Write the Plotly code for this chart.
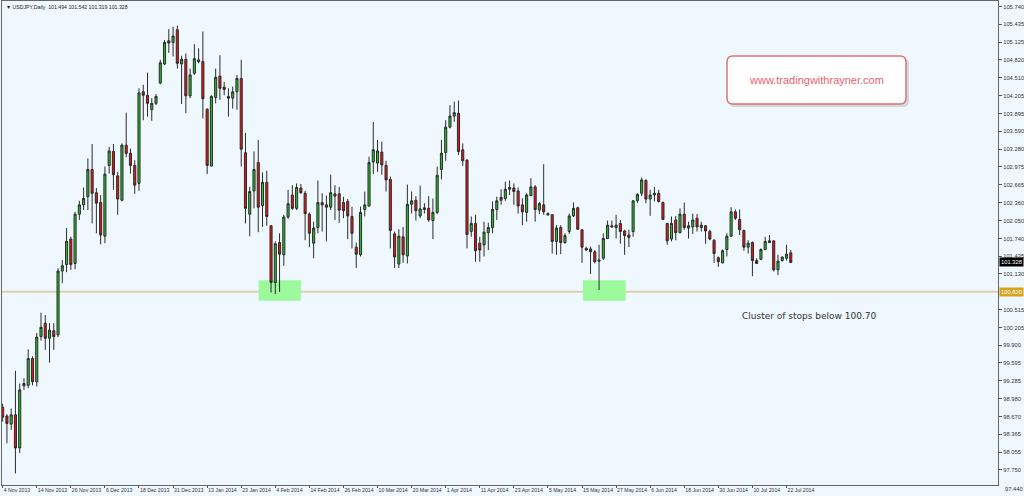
import pandas as pd
import plotly.graph_objects as go

# ---- data ----
dates = pd.bdate_range("2013-11-04", "2014-07-23", freq="C",
                       holidays=["2013-12-25", "2014-01-01"])
date_str = [d.strftime("%Y-%m-%d") for d in dates]

opens = [98.83, 98.68, 98.54, 98.70, 98.13, 99.24, 99.21, 99.67, 99.27, 100.05,
         100.28, 100.02, 100.15, 100.08, 101.18, 101.29, 101.73, 101.31, 102.16, 102.32,
         102.46, 102.93, 102.53, 102.36, 101.78, 103.00, 103.24, 102.82, 102.40, 103.35,
         103.21, 103.00, 102.69, 104.27, 104.21, 103.96, 104.07, 104.42, 104.75, 105.15,
         105.12, 105.34, 104.75, 104.83, 104.20, 104.59, 104.82, 104.79, 103.97, 102.99,
         104.17, 104.54, 104.35, 104.19, 104.16, 104.27, 104.50, 103.22, 102.16, 102.56,
         103.05, 102.31, 102.71, 101.96, 100.98, 101.67, 101.46, 102.11, 102.49, 102.26,
         102.61, 102.52, 102.16, 101.66, 101.93, 102.36, 102.32, 102.28, 102.47, 102.51,
         102.36, 102.38, 102.12, 101.59, 101.46, 102.24, 102.30, 103.06, 103.04, 103.23,
         103.00, 102.76, 101.82, 101.30, 101.77, 101.44, 102.33, 102.40, 102.13, 102.24,
         102.26, 102.05, 102.19, 102.93, 103.22, 103.66, 103.85, 103.90, 103.27, 103.09,
         101.86, 102.00, 101.66, 101.63, 101.84, 101.93, 102.24, 102.40, 102.43, 102.59,
         102.61, 102.56, 102.32, 102.19, 102.48, 102.63, 102.23, 102.32, 102.17, 102.15,
         101.69, 101.93, 101.67, 101.86, 102.13, 102.27, 101.89, 101.57, 101.56, 101.51,
         101.37, 101.40, 101.74, 101.96, 101.93, 102.00, 101.87, 101.80, 101.86, 102.39,
         102.52, 102.74, 102.42, 102.49, 102.52, 102.36, 102.00, 101.73, 102.06, 101.84,
         102.16, 101.92, 101.94, 102.09, 101.93, 101.96, 101.86, 101.71, 101.41, 101.32,
         101.55, 101.78, 102.20, 102.07, 101.88, 101.59, 101.67, 101.36, 101.38, 101.55,
         101.67, 101.70, 101.20, 101.36, 101.40, 101.494]
highs = [98.89, 98.71, 98.81, 99.46, 99.24, 99.33, 99.83, 99.71, 100.11, 100.46,
         100.42, 100.28, 100.28, 101.23, 101.37, 101.92, 101.77, 102.20, 102.39, 102.62,
         103.12, 103.37, 102.61, 102.49, 102.98, 103.32, 103.37, 102.89, 103.38, 103.91,
         103.29, 103.09, 104.33, 104.39, 104.60, 104.16, 104.23, 104.82, 105.16, 105.35,
         105.39, 105.41, 104.89, 104.93, 104.67, 105.09, 105.02, 105.31, 103.98, 104.21,
         104.67, 104.90, 104.44, 104.33, 104.36, 104.56, 104.82, 103.56, 102.63, 103.24,
         103.44, 102.88, 102.91, 101.97, 101.69, 101.83, 102.15, 102.58, 102.66, 102.69,
         102.68, 102.56, 102.19, 102.03, 102.74, 102.52, 102.48, 102.84, 102.66, 102.63,
         102.46, 102.42, 102.29, 101.67, 102.29, 102.55, 103.15, 103.75, 103.44, 103.41,
         103.08, 102.81, 101.86, 101.90, 101.94, 102.67, 102.55, 102.47, 102.65, 102.35,
         102.47, 102.43, 102.98, 103.44, 103.78, 104.04, 104.10, 104.12, 103.38, 103.11,
         102.12, 102.15, 101.77, 102.03, 102.01, 102.38, 102.46, 102.59, 102.72, 102.74,
         102.69, 102.62, 102.43, 102.52, 102.78, 102.66, 102.37, 103.02, 102.19, 102.16,
         101.97, 101.97, 101.83, 102.17, 102.36, 102.29, 101.90, 101.60, 101.60, 101.54,
         101.63, 101.83, 102.05, 102.05, 102.15, 102.06, 101.89, 101.89, 102.40, 102.52,
         102.79, 102.76, 102.58, 102.63, 102.58, 102.38, 102.01, 102.12, 102.13, 102.26,
         102.36, 102.03, 102.17, 102.16, 102.03, 101.97, 101.89, 101.73, 101.43, 101.55,
         101.83, 102.28, 102.24, 102.24, 101.89, 101.71, 101.69, 101.40, 101.57, 101.77,
         101.80, 101.70, 101.46, 101.43, 101.63, 101.542]
lows = [98.58, 98.21, 98.44, 97.69, 98.04, 99.13, 99.16, 99.21, 99.19, 99.98,
        99.82, 99.60, 99.82, 100.04, 100.97, 101.16, 101.20, 101.21, 102.06, 102.23,
        102.23, 102.00, 101.83, 101.64, 101.66, 102.86, 102.58, 102.15, 102.38, 103.14,
        102.86, 102.51, 102.56, 103.78, 103.84, 103.77, 104.04, 104.40, 104.73, 104.94,
        104.88, 104.67, 104.06, 103.90, 104.16, 104.56, 104.76, 103.81, 102.85, 102.98,
        104.07, 104.13, 104.21, 103.84, 103.98, 103.96, 102.98, 102.00, 101.78, 102.26,
        101.85, 101.94, 101.96, 100.81, 100.78, 100.82, 101.27, 102.08, 102.23, 102.23,
        102.51, 101.71, 101.59, 101.40, 101.83, 101.86, 101.69, 102.23, 102.06, 102.01,
        102.09, 101.73, 101.57, 101.23, 101.43, 102.12, 102.29, 102.85, 102.89, 102.84,
        102.55, 101.57, 101.23, 101.23, 101.32, 101.31, 102.17, 102.05, 102.09, 102.17,
        102.03, 101.73, 102.16, 102.76, 103.08, 103.64, 103.75, 103.18, 102.99, 101.57,
        101.77, 101.34, 101.34, 101.43, 101.54, 101.83, 102.06, 102.32, 102.39, 102.49,
        102.32, 102.17, 101.97, 102.03, 102.47, 102.03, 102.16, 102.15, 102.13, 101.48,
        101.46, 101.47, 101.65, 101.82, 102.11, 101.89, 101.32, 101.53, 101.13, 101.31,
        100.85, 101.37, 101.73, 101.93, 101.74, 101.65, 101.46, 101.59, 101.77, 102.35,
        102.47, 102.35, 102.13, 102.38, 102.36, 102.06, 101.63, 101.69, 101.71, 101.83,
        101.89, 101.74, 101.82, 101.86, 101.86, 101.65, 101.71, 101.32, 101.25, 101.31,
        101.43, 101.77, 102.06, 101.80, 101.53, 101.48, 101.09, 101.30, 101.37, 101.54,
        101.66, 101.17, 101.11, 101.34, 101.36, 101.319]
closes = [98.66, 98.55, 98.70, 98.13, 99.13, 99.20, 99.67, 99.27, 100.04, 100.21,
          100.02, 100.16, 100.05, 101.18, 101.27, 101.69, 101.29, 102.16, 102.32, 102.43,
          102.93, 102.52, 102.35, 101.80, 102.85, 103.25, 102.84, 102.42, 103.35, 103.21,
          103.00, 102.66, 104.25, 104.21, 104.07, 104.07, 104.19, 104.77, 105.12, 105.11,
          105.23, 104.76, 104.83, 104.20, 104.56, 104.84, 104.79, 104.15, 103.00, 104.19,
          104.52, 104.33, 104.31, 104.16, 104.27, 104.50, 103.28, 102.26, 102.55, 102.93,
          102.28, 102.71, 102.12, 100.98, 101.65, 101.47, 102.11, 102.34, 102.26, 102.62,
          102.53, 102.17, 101.83, 101.92, 102.36, 102.32, 102.28, 102.53, 102.51, 102.23,
          102.22, 102.13, 101.83, 101.47, 102.19, 102.32, 103.05, 103.27, 103.25, 103.01,
          102.75, 101.88, 101.42, 101.78, 101.46, 102.33, 102.39, 102.22, 102.25, 102.27,
          102.06, 102.19, 102.83, 103.21, 103.66, 103.85, 103.91, 103.24, 103.08, 101.81,
          102.00, 101.53, 101.54, 101.85, 101.93, 102.24, 102.39, 102.45, 102.59, 102.62,
          102.55, 102.30, 102.20, 102.49, 102.63, 102.24, 102.34, 102.20, 102.15, 101.69,
          101.92, 101.67, 101.79, 102.13, 102.26, 101.90, 101.59, 101.54, 101.51, 101.34,
          101.35, 101.74, 101.97, 101.94, 101.97, 101.86, 101.79, 101.76, 102.39, 102.50,
          102.75, 102.42, 102.49, 102.52, 102.38, 102.07, 101.70, 102.00, 101.84, 102.16,
          101.93, 101.96, 102.06, 101.94, 101.97, 101.87, 101.73, 101.48, 101.34, 101.53,
          101.78, 102.20, 102.09, 101.89, 101.59, 101.66, 101.36, 101.31, 101.55, 101.69,
          101.70, 101.20, 101.35, 101.42, 101.47, 101.328]

price_ticks = ["105.740", "105.435", "105.125", "104.820", "104.510", "104.205",
               "103.895", "103.590", "103.280", "102.975", "102.665", "102.360",
               "102.050", "101.740", "101.435", "101.130", "100.515",
               "100.205", "99.900", "99.595", "99.285", "98.980", "98.670",
               "98.365", "98.055", "97.750"]
bottom_tick = "97.440"
support_level = 100.82
support_label = "100.820"
last_price = 101.328
title_text = "\u25bc USDJPY,Daily  101.494 101.542 101.319 101.328"
note_text = "Cluster of stops below 100.70"
watermark = "www.tradingwithrayner.com"

# ---- geometry helpers ----
W, H = 1024, 496
PL, PR, PT, PB = 2, 998, 1, 485
def px(xp):
    return (xp - PL) / (PR - PL)
def py(yp):
    return (PB - yp) / (PB - PT)

def rounded_rect(x0, y0, x1, y1, r):
    X0, X1 = px(x0), px(x1)
    Y0, Y1 = py(y0), py(y1)   # Y0 top (larger), Y1 bottom
    rx = r / (PR - PL)
    ry = r / (PB - PT)
    return (f"M {X0+rx},{Y0} L {X1-rx},{Y0} Q {X1},{Y0} {X1},{Y0-ry} "
            f"L {X1},{Y1+ry} Q {X1},{Y1} {X1-rx},{Y1} "
            f"L {X0+rx},{Y1} Q {X0},{Y1} {X0},{Y1+ry} "
            f"L {X0},{Y0-ry} Q {X0},{Y0} {X0+rx},{Y0} Z")

fig = go.Figure(go.Candlestick(
    x=date_str, open=opens, high=highs, low=lows, close=closes,
    increasing=dict(line=dict(color="#2b2b2b", width=1), fillcolor="#25c025"),
    decreasing=dict(line=dict(color="#2b2b2b", width=1), fillcolor="#ee1111"),
    whiskerwidth=0, hoverinfo="skip",
))

tick_idx = list(range(0, len(date_str), 8))
fig.update_xaxes(
    type="category", rangeslider_visible=False, range=[-0.157, 233.65],
    tickvals=[date_str[i] for i in tick_idx],
    ticktext=[f"{dates[i].day} {dates[i].strftime('%b %Y')}" for i in tick_idx],
    tickangle=0, ticks="outside", ticklen=2, tickcolor="#555", tickwidth=1,
    ticklabelposition="outside right", ticklabelstandoff=0,
    tickfont=dict(family="Liberation Sans", size=5.2, color="#333"),
    showline=True, mirror=True, linecolor="#666", linewidth=1,
    showgrid=False, zeroline=False, automargin=False, fixedrange=True,
)
fig.update_yaxes(
    side="right", range=[97.490, 105.835],
    tickvals=[float(t) for t in price_ticks], ticktext=price_ticks,
    ticks="outside", ticklen=3, tickcolor="#555", tickwidth=1,
    tickfont=dict(family="Liberation Sans", size=5.8, color="#333"),
    showline=True, mirror=True, linecolor="#666", linewidth=1,
    showgrid=False, zeroline=False, automargin=False, fixedrange=True,
)

shapes = [
    dict(type="rect", xref="x", yref="y", x0=60.1, x1=70.0, y0=100.668, y1=101.019,
         fillcolor="#9cf99c", line=dict(width=0), layer="below"),
    dict(type="rect", xref="x", yref="y", x0=136.2, x1=146.25, y0=100.668, y1=101.019,
         fillcolor="#9cf99c", line=dict(width=0), layer="below"),
    dict(type="line", xref="paper", yref="y", x0=0, x1=1, y0=support_level, y1=support_level,
         line=dict(color="rgba(214,196,150,0.75)", width=2), layer="below"),
    dict(type="path", xref="paper", yref="paper", path=rounded_rect(729, 58, 909, 107, 6),
         fillcolor="rgba(0,0,0,0.13)", line=dict(width=0)),
    dict(type="path", xref="paper", yref="paper", path=rounded_rect(727, 56, 906, 104, 6),
         fillcolor="white", line=dict(color="#e27272", width=1.5)),
]

annotations = [
    dict(xref="paper", yref="paper", x=px(4), y=py(2), xanchor="left", yanchor="top",
         text=title_text, showarrow=False,
         font=dict(family="Liberation Sans", size=5.2, color="#222")),
    dict(xref="paper", yref="paper", x=px(816.5), y=py(80), xanchor="center", yanchor="middle",
         text=watermark, showarrow=False,
         font=dict(family="Liberation Sans", size=11, color="#e8636b")),
    dict(xref="paper", yref="paper", x=px(740), y=py(316), xanchor="left", yanchor="middle",
         text=note_text, showarrow=False,
         font=dict(family="DejaVu Sans", size=9, color="#333")),
    dict(xref="paper", yref="y", x=1, y=support_level, xanchor="left", yanchor="middle",
         xshift=1, text=support_label, showarrow=False, bgcolor="#d6a31e",
         borderpad=1, font=dict(family="Liberation Sans", size=5.8, color="white")),
    dict(xref="paper", yref="y", x=1, y=last_price, xanchor="left", yanchor="middle",
         xshift=1, text=f"{last_price:.3f}", showarrow=False, bgcolor="black",
         borderpad=1, font=dict(family="Liberation Sans", size=5.8, color="white")),
    dict(xref="paper", yref="paper", x=1, y=py(489), xanchor="left", yanchor="middle",
         xshift=5, text=bottom_tick, showarrow=False,
         font=dict(family="Liberation Sans", size=5.8, color="#333")),
]

fig.update_layout(
    width=W, height=H, margin=dict(l=PL, r=W - PR, t=PT, b=H - PB),
    paper_bgcolor="#f0f8ff", plot_bgcolor="#f0f8ff", showlegend=False,
    shapes=shapes, annotations=annotations,
)
fig.write_html("out.html", config={"displayModeBar": False},
               post_script="document.body.style.margin='0';document.body.style.overflow='hidden';")
